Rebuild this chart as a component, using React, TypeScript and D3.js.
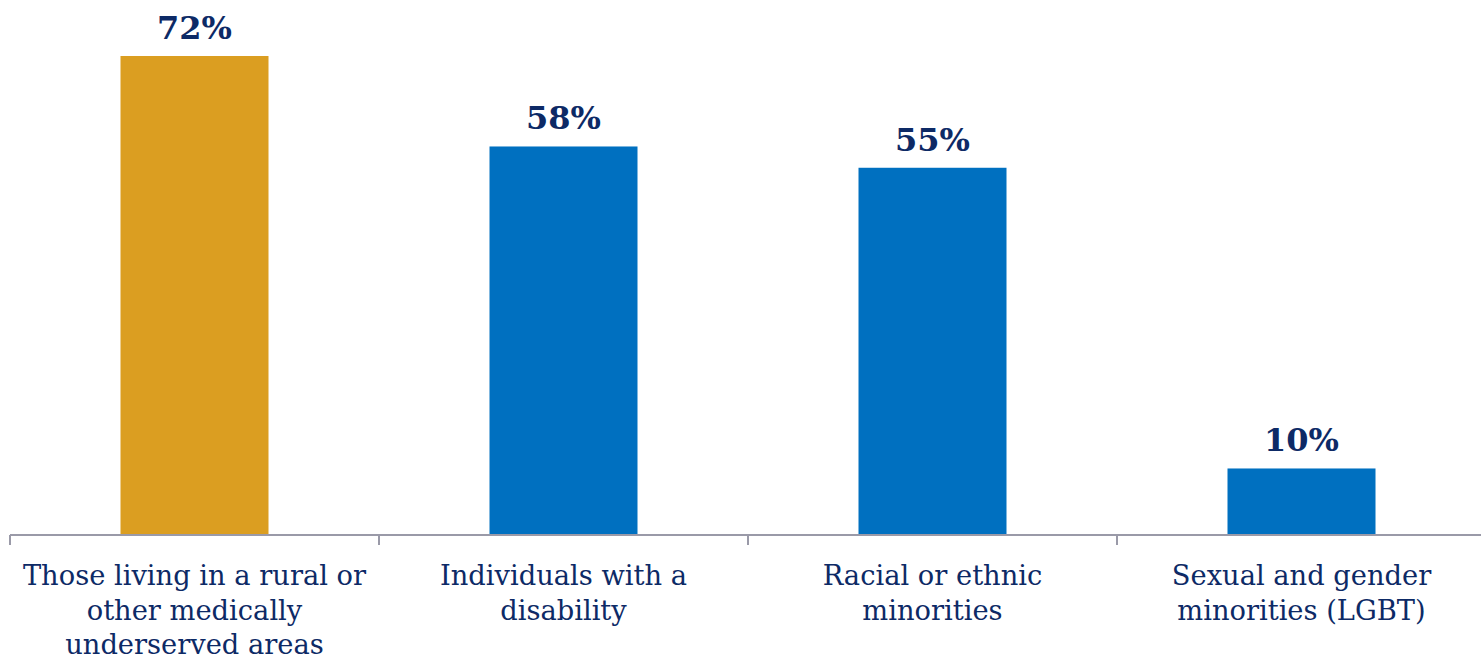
import React from "react";
import * as d3 from "d3";

const categories: string[][] = [
  ["Those living in a rural or", "other medically", "underserved areas"],
  ["Individuals with a", "disability"],
  ["Racial or ethnic", "minorities"],
  ["Sexual and gender", "minorities (LGBT)"],
];
const values: number[] = [72, 58.4, 55.2, 10];
const valueLabels: string[] = ["72%", "58%", "55%", "10%"];
const colors: string[] = ["#DB9E21", "#0070C0", "#0070C0", "#0070C0"];

const W = 1481;
const H = 660;
const axisY = 535;
const left = 10;
const right = 1486;

export default function App() {
  const band = d3.scaleBand<number>().domain(values.map((_, i) => i)).range([left, left + 369 * 4]);
  const y = d3.scaleLinear().domain([0, 72]).range([axisY, 56]);
  const font = "'DejaVu Serif', serif";
  const navy = "#0D2A66";
  return (
    <svg width={W} height={H} style={{ position: "absolute", left: 0, top: 0 }}>
      {values.map((v, i) => (
        <g key={i}>
          <rect
            x={band(i)! + band.bandwidth() / 2 - 74}
            width={148}
            y={y(v)}
            height={axisY - y(v)}
            fill={colors[i]}
          />
          <text
            x={band(i)! + band.bandwidth() / 2}
            y={y(v) - 17}
            textAnchor="middle"
            fontFamily={font}
            fontWeight="bold"
            fontSize={32}
            fill={navy}
          >
            {valueLabels[i]}
          </text>
          {categories[i].map((line, j) => (
            <text
              key={j}
              x={band(i)! + band.bandwidth() / 2}
              y={585 + j * 34.5}
              textAnchor="middle"
              fontFamily={font}
              fontSize={27.3}
              fill={navy}
            >
              {line}
            </text>
          ))}
        </g>
      ))}
      <line x1={left} x2={right} y1={axisY} y2={axisY} stroke="#9A9AA8" strokeWidth={2} />
      {d3.range(5).map((k) => (
        <line
          key={k}
          x1={left + 369 * k}
          x2={left + 369 * k}
          y1={axisY}
          y2={axisY + 10}
          stroke="#9A9AA8"
          strokeWidth={2}
        />
      ))}
    </svg>
  );
}
